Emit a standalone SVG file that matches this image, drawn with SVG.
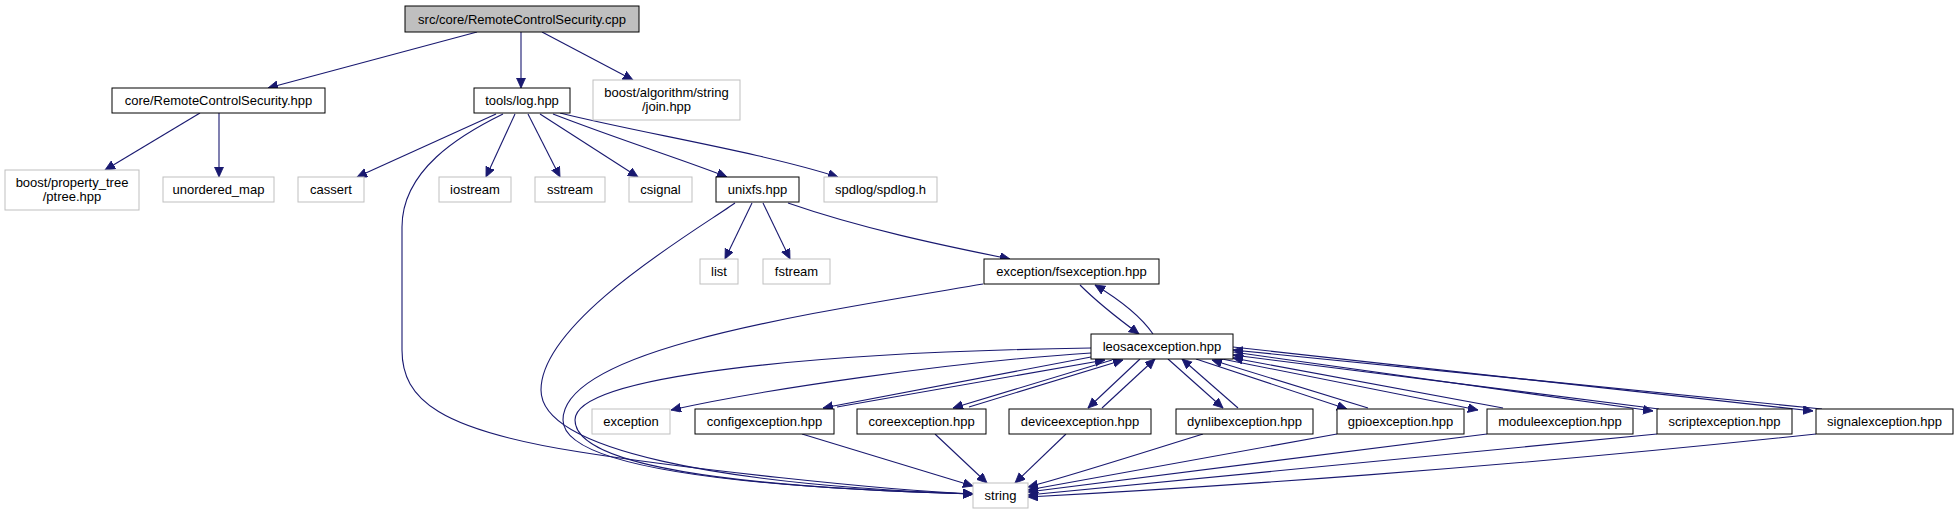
<svg xmlns="http://www.w3.org/2000/svg" width="1959" height="515" viewBox="0 0 1959 515">
<style>
.n rect{fill:#fff;stroke:#000;stroke-width:1}
.g rect{fill:#fff;stroke:#bfbfbf;stroke-width:1}
.root rect{fill:#bfbfbf;stroke:#000;stroke-width:1}
text{font-family:"Liberation Sans",Arial,sans-serif;font-size:13px;fill:#000;text-anchor:middle}
#edges path{fill:none;stroke:#191970;stroke-width:1.1;marker-end:url(#ah)}
</style>
<defs>
<marker id="ah" markerUnits="userSpaceOnUse" markerWidth="11" markerHeight="10" refX="10" refY="4.5" orient="auto" viewBox="0 0 11 10">
<path d="M0,0 L10,4.5 L0,9 z" fill="#191970" stroke="#191970" stroke-width="0.8"/>
</marker>
</defs>
<rect width="1959" height="515" fill="#fff"/>
<g id="edges">
<path d="M477,32 L268,88"/>
<path d="M521,32 L521,88"/>
<path d="M542,32 L633,80"/>
<path d="M200,113 L105,170"/>
<path d="M219,113 L219,177"/>
<path d="M496,114 L357,177"/>
<path d="M503,114 C460,135 402,170 402,227 L402,350 C402,400 440,430 580,452 C680,468 880,490 973,494"/>
<path d="M515,114 L486,177"/>
<path d="M528,114 L560,177"/>
<path d="M540,114 L638,177"/>
<path d="M553,114 C620,140 690,162 727,177"/>
<path d="M560,113 C640,133 760,152 838,177"/>
<path d="M735,203 C700,228 541,320 541,390 C541,450 720,485 973,494"/>
<path d="M752,203 L725,259"/>
<path d="M763,203 L790,259"/>
<path d="M788,203 C860,228 940,245 1010,259"/>
<path d="M983,284 C800,315 563,350 563,420 C563,470 760,488 973,494"/>
<path d="M1080,285 C1100,305 1120,320 1139,334"/>
<path d="M1153,334 C1140,315 1120,300 1095,285"/>
<path d="M1091,348 C820,352 575,375 575,420 C575,470 760,488 973,494"/>
<path d="M1091,353 C950,362 760,390 671,410"/>
<path d="M1091,357 L823,408"/>
<path d="M837,407 L1105,360"/>
<path d="M1112,360 L953,408"/>
<path d="M969,407 L1123,360"/>
<path d="M1140,359 L1088,408"/>
<path d="M1102,408 L1155,359"/>
<path d="M1168,359 L1223,408"/>
<path d="M1238,408 L1182,359"/>
<path d="M1196,359 L1347,409"/>
<path d="M1368,408 L1212,360"/>
<path d="M1222,359 L1478,410"/>
<path d="M1503,408 L1233,358"/>
<path d="M1233,352 L1653,411"/>
<path d="M1659,409 L1233,355"/>
<path d="M1233,347 L1813,411"/>
<path d="M1822,409 L1233,350"/>
<path d="M802,434 L973,486"/>
<path d="M935,434 L987,483"/>
<path d="M1066,434 L1015,483"/>
<path d="M1203,434 C1120,460 1060,479 1028,487"/>
<path d="M1337,434 L1028,490"/>
<path d="M1487,434 L1028,492"/>
<path d="M1657,434 L1028,495"/>
<path d="M1816,434 C1500,468 1200,488 1028,497"/>
</g>
<g id="n_root" class="root"><rect x="405" y="6" width="234" height="26"/><text x="522" y="23.5">src/core/RemoteControlSecurity.cpp</text></g>
<g id="n_rcshpp" class="n"><rect x="112" y="88" width="213" height="25"/><text x="218.5" y="105">core/RemoteControlSecurity.hpp</text></g>
<g id="n_log" class="n"><rect x="474" y="88" width="96" height="25"/><text x="522" y="105">tools/log.hpp</text></g>
<g id="n_join" class="g"><rect x="593" y="80" width="147" height="40"/><text x="666.5" y="97">boost/algorithm/string</text><text x="666.5" y="111">/join.hpp</text></g>
<g id="n_ptree" class="g"><rect x="5" y="170" width="134" height="40"/><text x="72" y="187">boost/property_tree</text><text x="72" y="201">/ptree.hpp</text></g>
<g id="n_umap" class="g"><rect x="163" y="177" width="111" height="25"/><text x="218.5" y="194">unordered_map</text></g>
<g id="n_cassert" class="g"><rect x="298" y="177" width="66" height="25"/><text x="331" y="194">cassert</text></g>
<g id="n_iostream" class="g"><rect x="439" y="177" width="72" height="25"/><text x="475" y="194">iostream</text></g>
<g id="n_sstream" class="g"><rect x="535" y="177" width="70" height="25"/><text x="570" y="194">sstream</text></g>
<g id="n_csignal" class="g"><rect x="629" y="177" width="63" height="25"/><text x="660.5" y="194">csignal</text></g>
<g id="n_unixfs" class="n"><rect x="716" y="177" width="83" height="25"/><text x="757.5" y="194">unixfs.hpp</text></g>
<g id="n_spdlog" class="g"><rect x="824" y="177" width="113" height="25"/><text x="880.5" y="194">spdlog/spdlog.h</text></g>
<g id="n_list" class="g"><rect x="700" y="259" width="38" height="25"/><text x="719" y="276">list</text></g>
<g id="n_fstream" class="g"><rect x="763" y="259" width="67" height="25"/><text x="796.5" y="276">fstream</text></g>
<g id="n_fsexc" class="n"><rect x="984" y="259" width="175" height="25"/><text x="1071.5" y="276">exception/fsexception.hpp</text></g>
<g id="n_leosac" class="n"><rect x="1091" y="334" width="142" height="25"/><text x="1162" y="351">leosacexception.hpp</text></g>
<g id="n_exception" class="g"><rect x="592" y="409" width="78" height="25"/><text x="631" y="426">exception</text></g>
<g id="n_config" class="n"><rect x="695" y="409" width="139" height="25"/><text x="764.5" y="426">configexception.hpp</text></g>
<g id="n_core" class="n"><rect x="857" y="409" width="129" height="25"/><text x="921.5" y="426">coreexception.hpp</text></g>
<g id="n_device" class="n"><rect x="1009" y="409" width="142" height="25"/><text x="1080" y="426">deviceexception.hpp</text></g>
<g id="n_dynlib" class="n"><rect x="1176" y="409" width="137" height="25"/><text x="1244.5" y="426">dynlibexception.hpp</text></g>
<g id="n_gpio" class="n"><rect x="1337" y="409" width="127" height="25"/><text x="1400.5" y="426">gpioexception.hpp</text></g>
<g id="n_module" class="n"><rect x="1487" y="409" width="146" height="25"/><text x="1560" y="426">moduleexception.hpp</text></g>
<g id="n_script" class="n"><rect x="1657" y="409" width="135" height="25"/><text x="1724.5" y="426">scriptexception.hpp</text></g>
<g id="n_signal" class="n"><rect x="1816" y="409" width="137" height="25"/><text x="1884.5" y="426">signalexception.hpp</text></g>
<g id="n_string" class="g"><rect x="973" y="483" width="55" height="25"/><text x="1000.5" y="500">string</text></g>
</svg>
